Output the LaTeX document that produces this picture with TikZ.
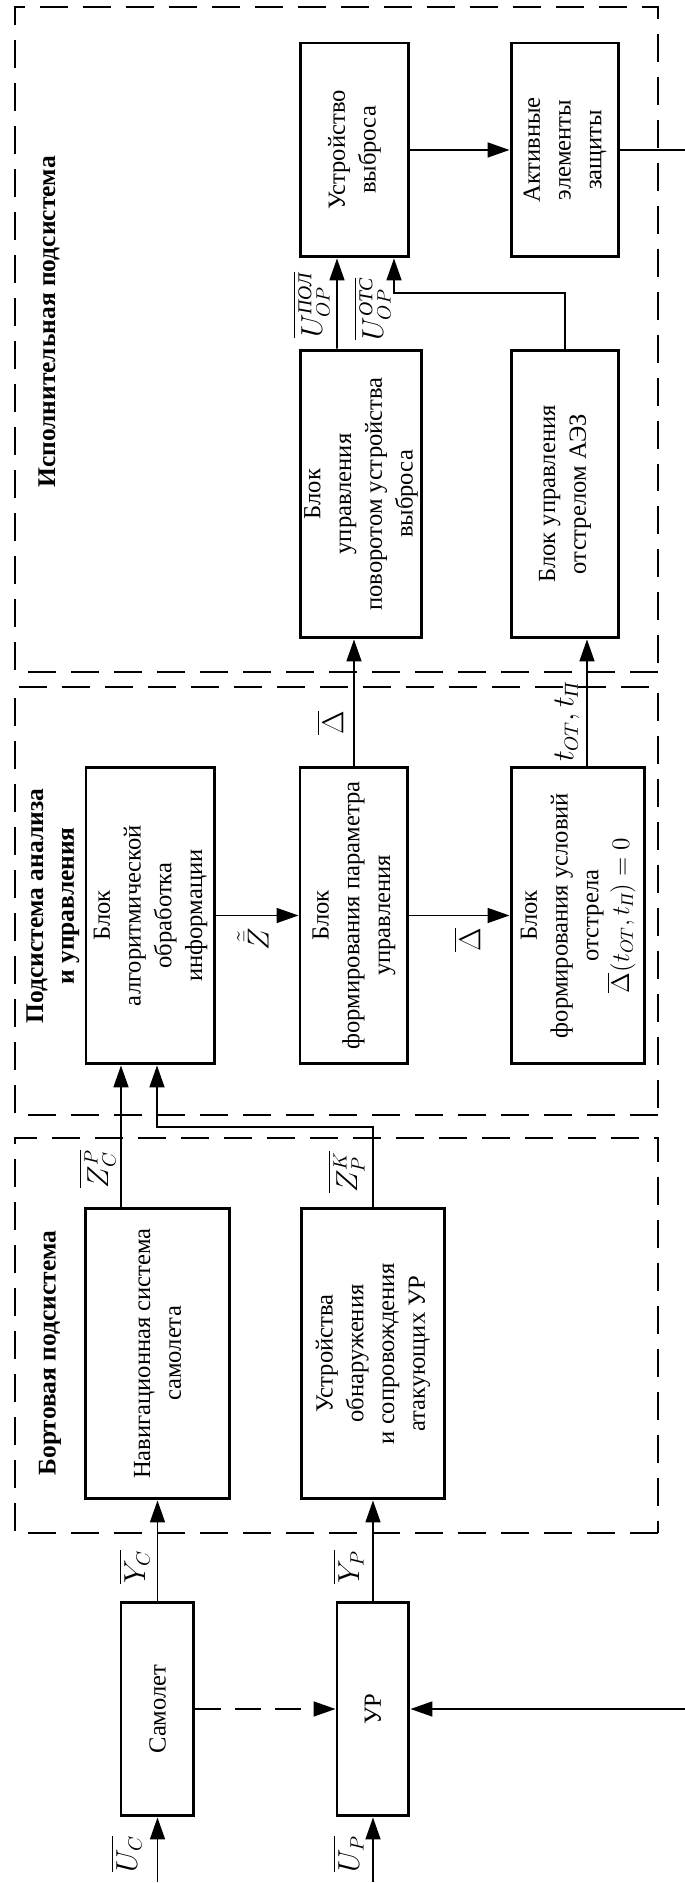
\documentclass[tikz,border=0pt]{standalone}
\usepackage{amsmath}
\usepackage{fontspec}
\setmainfont{Liberation Serif}
\usetikzlibrary{arrows.meta,calc}

\begin{document}
\begin{tikzpicture}[
        rotate=90, transform shape,
        x=0.02cm, y=0.02cm,
        font=\fontsize{14}{17.5}\selectfont,
        blok/.style={draw, line width=1.7pt, align=center, inner sep=2pt},
        strelka/.style={-{Triangle[length=0.44cm,width=0.3cm]}, line width=0.95pt},
        ramka/.style={line width=0.8pt, dash pattern=on 0.56cm off 0.3cm},
        metka/.style={font=\fontsize{16}{19}\selectfont, inner sep=1pt},
        zagolovok/.style={font=\fontsize{14.5}{17.5}\selectfont\bfseries, align=center}
    ]
        \useasboundingbox (0,0) rectangle (1883,684);

        % подсистемы
        \draw[ramka] (350,26) rectangle (745,669);
        \draw[ramka] (768,26) rectangle (1196,669);
        \draw[ramka] (1211,26) rectangle (1876,669);
        \node[zagolovok] (tBort) at (530,634) {Бортовая подсистема};
        \node[zagolovok] (tAnal) at (977,631) {Подсистема анализа\\и управления};
        \node[zagolovok] (tIsp) at (1561,635) {Исполнительная подсистема};

        % блоки
        \node[blok, minimum width=4.28cm, minimum height=1.46cm] (samolet) at (174,526.5) {Самолет};
        \node[blok, minimum width=4.28cm, minimum height=1.44cm] (ur) at (174,311) {УР};
        \node[blok, minimum width=5.82cm, minimum height=2.88cm] (nav) at (529.5,526.5) {Навигационная система\\самолета};
        \node[blok, minimum width=5.82cm, minimum height=2.88cm] (obn) at (529.5,311) {Устройства\\обнаружения\\и сопровождения\\атакующих УР};
        \node[blok, minimum width=5.94cm, minimum height=2.58cm] (alg) at (967.5,533.5) {Блок\\алгоритмической\\обработка\\информации};
        \node[blok, minimum width=5.94cm, minimum height=2.16cm] (par) at (967.5,330) {Блок\\формирования параметра\\управления};
        \node[blok, minimum width=5.94cm, minimum height=2.68cm] (usl) at (967.5,106) {Блок\\формирования условий\\отстрела\\$\overline{\Delta}(t_{OT},t_{\textit{П}})=0$};
        \node[blok, minimum width=5.76cm, minimum height=2.44cm] (pov) at (1389,323) {Блок\\управления\\поворотом устройства\\выброса};
        \node[blok, minimum width=5.76cm, minimum height=2.16cm] (ots) at (1389,119) {Блок управления\\отстрелом АЭЗ};
        \node[blok, minimum width=4.28cm, minimum height=2.18cm] (vyb) at (1733,329.5) {Устройство\\выброса};
        \node[blok, minimum width=4.28cm, minimum height=2.16cm] (akt) at (1733,119) {Активные\\элементы\\защиты};

        % точки излома
        \coordinate (vhodC) at (1,526.5);
        \coordinate (vhodP) at (1,311);
        \coordinate (obrA) at (1733,-4);
        \coordinate (obrB) at (174,-4);
        \coordinate (izlK1) at (756,311);
        \coordinate (izlK2) at (756,527);
        \coordinate (izlO1) at (1590,119);
        \coordinate (izlO2) at (1590,290);

        % связи
        \draw[strelka] (vhodC) -- (samolet.west);
        \draw[strelka] (vhodP) -- (ur.west);
        \draw[strelka] (samolet.east) -- (nav.west);
        \draw[strelka] (ur.east) -- (obn.west);
        \draw[strelka, dash pattern=on 0.52cm off 0.28cm] (samolet.south) -- (ur.north);
        \draw[strelka] (akt.south) -- (obrA) -- (obrB) -- (ur.south);
        \draw[strelka] ($(nav.east)+(0,36.5)$) -- ($(alg.west)+(0,29.5)$);
        \draw[strelka] (obn.east) -- (izlK1) -- (izlK2) -- ($(alg.west)+(0,-6.5)$);
        \draw[strelka] (alg.south) -- (par.north);
        \draw[strelka] (par.south) -- (usl.north);
        \draw[strelka] (par.east) -- ($(pov.west)+(0,7)$);
        \draw[strelka] ($(usl.east)+(0,-9)$) -- ($(ots.west)+(0,-22)$);
        \draw[strelka] ($(pov.east)+(0,24)$) -- ($(vyb.west)+(0,17.5)$);
        \draw[strelka] (ots.east) -- (izlO1) -- (izlO2) -- ($(vyb.west)+(0,-39.5)$);
        \draw[strelka] (vyb.south) -- (akt.north);

        % обозначения сигналов
        \node[metka] (lUC) at (29,558) {$\overline{U_C}$};
        \node[metka] (lUP) at (29,336) {$\overline{U_P}$};
        \node[metka] (lYC) at (316,550) {$\overline{Y_C}$};
        \node[metka] (lYP) at (316,336) {$\overline{Y_P}$};
        \node[metka] (lZC) at (714,587) {$\overline{Z_C^P}$};
        \node[metka] (lZP) at (711,338) {$\overline{Z_P^K}$};
        \node[metka] (lZt) at (944,431) {$\tilde{\bar{Z}}$};
        \node[metka] (lD1) at (943,217) {$\overline{\Delta}$};
        \node[metka] (lD2) at (1160,354) {$\overline{\Delta}$};
        \node[metka] (lT) at (1161,117) {$t_{OT},t_{\textit{П}}$};
        \node[metka] (lUpol) at (1578,373) {$\overline{U_{OP}^{\textit{ПОЛ}}}$};
        \node[metka] (lUots) at (1574,312) {$\overline{U_{OP}^{\textit{ОТС}}}$};
    \end{tikzpicture}
\end{document}
